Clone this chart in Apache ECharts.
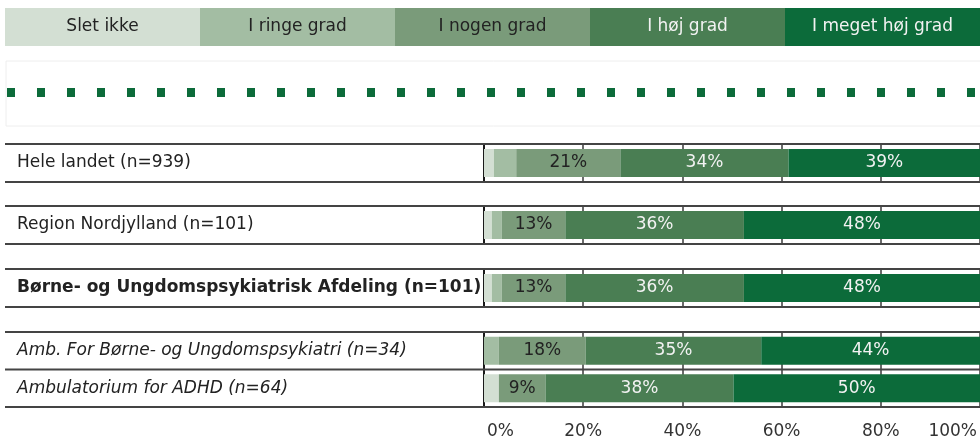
<!DOCTYPE html>
<html>
<head>
<meta charset="utf-8">
<script src="https://cdn.jsdelivr.net/npm/echarts@6/dist/echarts.min.js"></script>
<style>
  html, body { margin: 0; padding: 0; background: #fff; }
  #chart { width: 980px; height: 440px; }
</style>
</head>
<body>
<div id="chart"></div>
<script>
// svarkategorier og farver
const levels = ['Slet ikke', 'I ringe grad', 'I nogen grad', 'I høj grad', 'I meget høj grad'];
const levelColors = ['#d3dfd3', '#a3bda3', '#7a9b7a', '#4a7e53', '#0c6b3a'];
const labelColors = ['#222', '#222', '#222', '#f2f2f2', '#f2f2f2'];

const categories = [
  'Hele landet (n=939)',
  'Region Nordjylland (n=101)',
  'Børne- og Ungdomspsykiatrisk Afdeling (n=101)',
  'Amb. For Børne- og Ungdomspsykiatri (n=34)',
  'Ambulatorium for ADHD (n=64)'
];

// procenter pr. række
const sletIkke      = [2.0, 1.6, 1.6, 0.0, 3.0];
const ringeGrad     = [4.5, 2.0, 2.0, 3.0, 0.0];
const nogenGrad     = [21.0, 12.8, 12.8, 17.5, 9.4];
const hoejGrad      = [33.9, 36.0, 36.0, 35.4, 37.9];
const megetHoejGrad = [38.6, 47.6, 47.6, 44.1, 49.7];
const allValues = [sletIkke, ringeGrad, nogenGrad, hoejGrad, megetHoejGrad];

const xTicks = [0, 20, 40, 60, 80, 100];

// rækkegrupper: hver gruppe er sin egen lille tabel
const groups = [
  { rows: [0], top: 144, height: 38, style: 'normal' },
  { rows: [1], top: 206, height: 38, style: 'normal' },
  { rows: [2], top: 269, height: 38, style: 'bold' },
  { rows: [3, 4], top: 332, height: 75, style: 'italic' }
];

const LEFT = 484;
const FONT = 'DejaVu Sans';
const FS = 17;

const chart = echarts.init(document.getElementById('chart'));

const grids = [], xAxes = [], yAxes = [], series = [], graphics = [];

groups.forEach((g, gi) => {
  const last = gi === groups.length - 1;
  grids.push({ left: LEFT, right: 0, top: g.top, height: g.height });
  xAxes.push({
    type: 'value', gridIndex: gi, min: xTicks[0], max: xTicks[xTicks.length - 1], interval: 20,
    axisLine: { show: false }, axisTick: { show: false },
    splitLine: { show: true, lineStyle: { color: '#3a3a3a', width: 1.5 } },
    axisLabel: {
      show: last, formatter: '{value}%', margin: 16,
      color: '#333', fontFamily: FONT, fontSize: FS,
      alignMinLabel: 'left', alignMaxLabel: 'right',
      padding: [0, 3, 0, 3]
    }
  });
  yAxes.push({
    type: 'category', gridIndex: gi, inverse: true,
    data: g.rows.map(r => categories[r]),
    axisLine: { show: true, lineStyle: { color: '#000', width: 1.5 } },
    axisTick: { show: false },
    axisLabel: {
      align: 'left', margin: LEFT - 17, color: '#222',
      fontFamily: FONT, fontSize: FS,
      fontWeight: g.style === 'bold' ? 'bold' : 'normal',
      fontStyle: g.style === 'italic' ? 'italic' : 'normal'
    }
  });
  levels.forEach((name, k) => {
    series.push({
      name: name, type: 'bar', stack: 'g' + gi,
      xAxisIndex: gi, yAxisIndex: gi, barWidth: 28,
      itemStyle: { color: levelColors[k] },
      label: {
        show: true, position: 'inside', color: labelColors[k],
        fontFamily: FONT, fontSize: FS,
        formatter: p => p.value >= 5 ? Math.round(p.value) + '%' : ''
      },
      data: g.rows.map(r => allValues[k][r])
    });
  });
  // vandrette kantlinjer
  const ys = [g.top, g.top + g.height];
  if (g.rows.length > 1) ys.push(g.top + g.height / 2);
  ys.forEach(y => {
    graphics.push({
      type: 'line', shape: { x1: 5, y1: y, x2: 980, y2: y },
      style: { stroke: '#444', lineWidth: 2 }, z: 1
    });
  });
});

// farvebjælke øverst
const cellW = (980 - 5) / levels.length;
levels.forEach((name, k) => {
  graphics.push({
    type: 'rect', shape: { x: 5 + k * cellW, y: 8, width: cellW, height: 38 },
    style: { fill: levelColors[k] }
  });
  graphics.push({
    type: 'text', x: 5 + k * cellW + cellW / 2, y: 27,
    style: {
      text: name, fill: labelColors[k], font: FS + 'px "DejaVu Sans"',
      align: 'center', verticalAlign: 'middle'
    }
  });
});

// prikket linje
graphics.push({
  type: 'rect', shape: { x: 6, y: 61, width: 980, height: 65 },
  style: { fill: 'none', stroke: '#eeeeee', lineWidth: 1 }
});
graphics.push({
  type: 'line', shape: { x1: 7, y1: 92.5, x2: 980, y2: 92.5 },
  style: { stroke: '#0c6b3a', lineWidth: 9, lineDash: [8, 22] }
});

chart.setOption({
  animation: false,
  grid: grids,
  xAxis: xAxes,
  yAxis: yAxes,
  series: series,
  graphic: graphics
});
</script>
</body>
</html>
